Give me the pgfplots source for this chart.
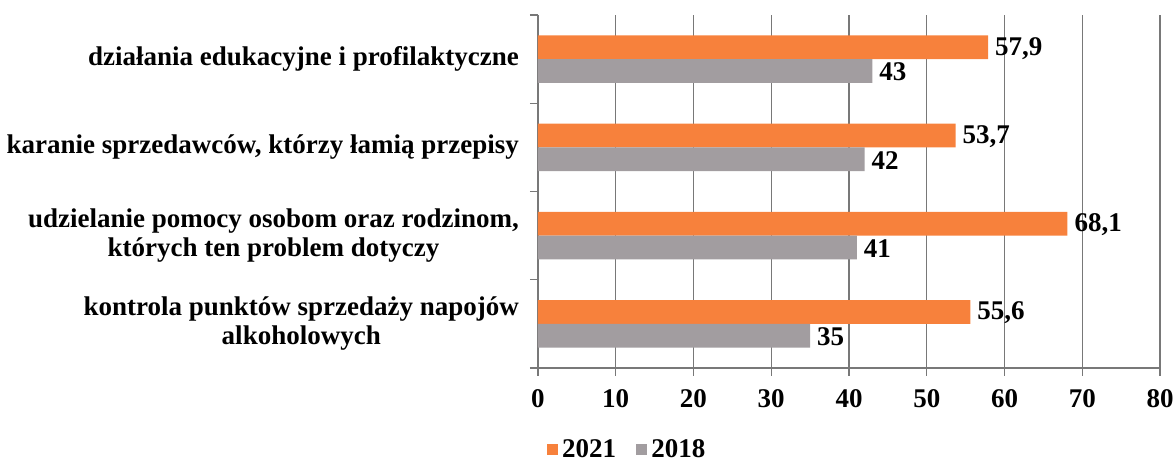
\documentclass[border=0pt]{standalone}
\usepackage{fontspec}
\setmainfont{Liberation Serif}
\usepackage{pgfplots}
\pgfplotsset{compat=1.18}
\definecolor{orng}{RGB}{247,129,60}
\definecolor{gry}{RGB}{162,157,160}
\definecolor{gridc}{RGB}{120,120,120}
\newcommand{\lf}{\fontsize{13.5}{14.5}\selectfont\bfseries}
\begin{document}
\begin{tikzpicture}
\begin{axis}[name=ax,
  scale only axis, width=311pt, height=176.5pt,
  xbar, bar width=0.27,
  xmin=0, xmax=80, ymin=-0.5, ymax=3.5,
  xtick={0,10,...,80},
  ytick={-0.5,0.5,1.5,2.5,3.5}, yticklabels={},
  extra y ticks={0,1,2,3},
  extra y tick labels={{kontrola punktów sprzedaży napojów\\alkoholowych},{udzielanie pomocy osobom oraz rodzinom,\\których ten problem dotyczy},{karanie sprzedawców, którzy łamią przepisy},{działania edukacyjne i profilaktyczne}},
  extra y tick style={major tick length=0pt},
  yticklabel style={align=center, font=\lf, xshift=-6pt},
  xticklabel style={font=\lf, yshift=-3pt},
  tick align=outside, major tick length=4pt,
  tick style={gridc, line width=0.6pt},
  axis x line*=bottom, axis y line*=left,
  axis line style={gridc, line width=0.6pt, -},
  xmajorgrids, grid style={gridc, line width=0.6pt},
  point meta=x,
  nodes near coords,
  every node near coord/.append style={anchor=west, font=\lf, black, yshift=-0.5pt},
  /pgf/number format/use comma,
  /pgf/number format/assume math mode=true,
  legend entries={2021,2018},
  legend style={at={(0.145,-0.232)}, anchor=center, draw=none, legend columns=2, font=\lf,
    /tikz/every even column/.append style={column sep=8pt}},
  legend image code/.code={\fill[#1] (0pt,-2.8pt) rectangle (5.6pt,2.8pt);},
]
\addplot[fill=orng, draw=none, bar shift=0.135] coordinates {(55.6,0) (68.1,1) (53.7,2) (57.9,3)};
\addplot[fill=gry, draw=none, bar shift=-0.135] coordinates {(35,0) (41,1) (42,2) (43,3)};
\end{axis}
\pgfresetboundingbox
\path ([shift={(-269pt,-47pt)}]ax.south west) rectangle ([shift={(8pt,7.5pt)}]ax.north east);
\end{tikzpicture}
\end{document}
